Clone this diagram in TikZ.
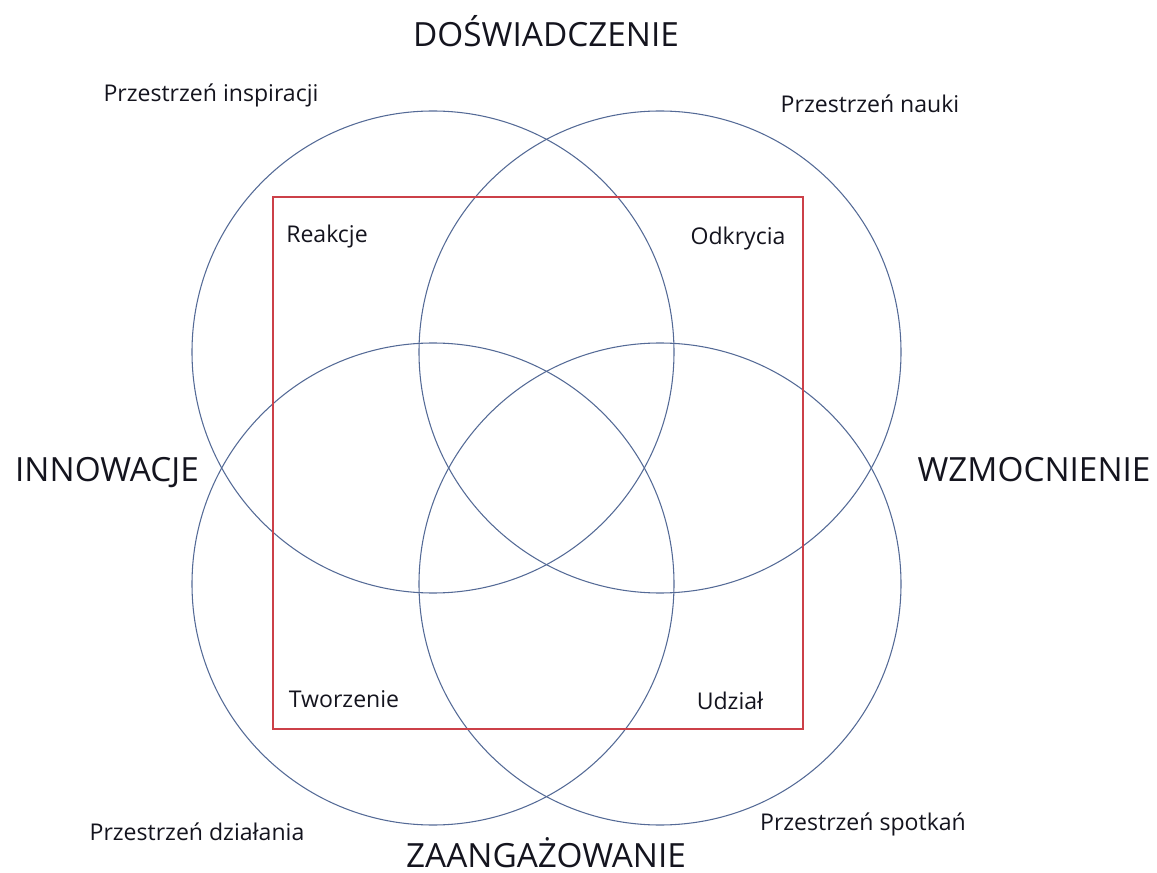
\documentclass[tikz,border=0pt]{standalone}
\usepackage{fontspec}
\setmainfont{Open Sans}
\definecolor{ringblue}{RGB}{84,106,150}
\definecolor{boxred}{RGB}{204,64,72}
\definecolor{txt}{RGB}{20,20,30}
\begin{document}
\begin{tikzpicture}[x=0.75pt,y=-0.75pt,
  big/.style={text=txt,font=\fontsize{25}{28}\selectfont,inner sep=0pt,anchor=base},
  small/.style={text=txt,font=\fontsize{17.3}{20}\selectfont,inner sep=0pt,anchor=base}]
\useasboundingbox (0,0) rectangle (1157,873);
\foreach \x/\y in {433/352,660/352,433/584,660/584}
\draw[ringblue,line width=.8pt] (\x,\y) circle [radius=241];
\draw[boxred,line width=.9pt] (273,197) rectangle (803,729);
\node[big] (dosw) at (546,47) {DOŚWIADCZENIE};
\node[big] (innow) at (107,482) {INNOWACJE};
\node[big] (wzmoc) at (1034,482) {WZMOCNIENIE};
\node[big] (zaang) at (546,867) {ZAANGAŻOWANIE};
\node[small] (insp) at (211,102) {Przestrzeń inspiracji};
\node[small] (nauki) at (870,113) {Przestrzeń nauki};
\node[small] (dzial) at (197,840) {Przestrzeń działania};
\node[small] (spotk) at (863,830) {Przestrzeń spotkań};
\node[small] (reak) at (327,243) {Reakcje};
\node[small] (odkr) at (738,245) {Odkrycia};
\node[small] (tworz) at (344,707) {Tworzenie};
\node[small] (udz) at (730,709) {Udział};
\end{tikzpicture}
\end{document}
